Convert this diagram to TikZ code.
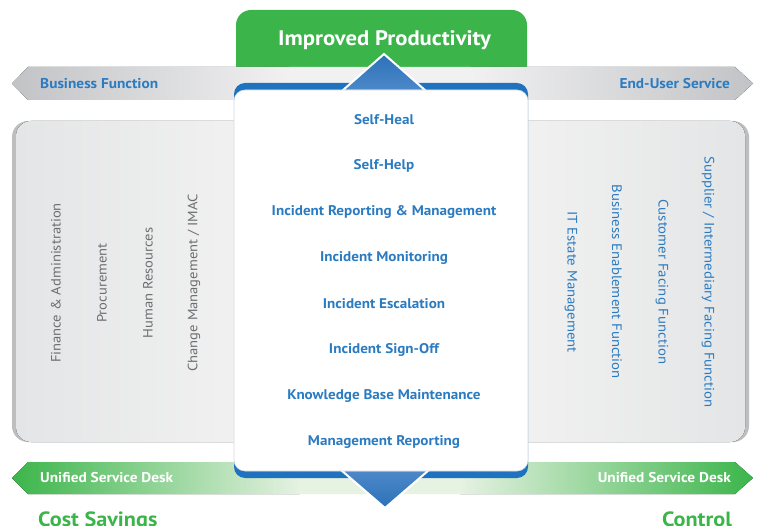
\documentclass[tikz,border=0pt]{standalone}
\usepackage{fontspec}
\setmainfont{PT Sans}[FakeStretch=1.08]
\definecolor{tblue}{HTML}{2B7BC1}
\definecolor{cblue}{HTML}{1F73BE}
\definecolor{tri1}{HTML}{2C71B8}
\definecolor{tri2}{HTML}{4D89C9}
\definecolor{tgray}{HTML}{6D6E71}
\definecolor{pgreen}{HTML}{3BB54A}
\definecolor{palegreen}{HTML}{E6F2E2}
\definecolor{bandgray}{HTML}{C2C3C6}
\definecolor{bandlight}{HTML}{F1F1F2}
\definecolor{panelA}{HTML}{E4E5E6}
\definecolor{panelB}{HTML}{F2F2F2}
\definecolor{shadowgray}{HTML}{BDBEC0}
\definecolor{edgegray}{HTML}{D3DAE3}
\tikzset{
  item/.style={font=\fontsize{14}{16}\selectfont\bfseries, text=tblue, inner sep=0pt},
  bandlabel/.style={font=\fontsize{14.2}{16}\selectfont\bfseries, inner sep=0pt},
  sidegray/.style={font=\fontsize{13.5}{16}\selectfont, text=tgray, inner sep=0pt, rotate=90},
  sideblue/.style={font=\fontsize{13.7}{16}\selectfont, text=tblue, inner sep=0pt, rotate=-90},
  bigtitle/.style={font=\fontsize{21}{24}\selectfont\bfseries, inner sep=0pt},
  tri/.style={draw=white, line width=2pt, line join=miter}
}
\begin{document}
\begin{tikzpicture}[x=1pt,y=-1pt]
\useasboundingbox (0,0) rectangle (760,526);
% side panels
\fill[shadowgray, rounded corners=16pt] (12,121) rectangle (260,442);
\fill[left color=panelA, right color=panelB, rounded corners=15pt] (16,121) rectangle (260,442);
\fill[shadowgray, rounded corners=16pt] (500,121) rectangle (749,442);
\fill[left color=panelB, right color=panelA, rounded corners=15pt] (500,121) rectangle (745,442);
% green title box
\fill[pgreen] (236,75) [rounded corners=15pt] -- (236,10) -- (527,10) [sharp corners] -- (527,75) -- cycle;
\node[bigtitle, text=white] (title) at (384.5,40) {Improved Productivity};
% top gray band
\begin{scope}
\clip (12,83.5) -- (28,67) -- (735,67) -- (753,83.5) -- (735,100) -- (28,100) -- cycle;
\fill[left color=bandgray, right color=bandlight] (11,66) rectangle (290,101);
\fill[bandlight] (289,66) rectangle (471,101);
\fill[left color=bandlight, right color=bandgray] (470,66) rectangle (754,101);
\end{scope}
\node[bandlabel, text=tblue, anchor=west] (bf) at (40,84) {Business Function};
\node[bandlabel, text=tblue, anchor=east] (eu) at (730,84) {End-User Service};
% bottom green band
\begin{scope}
\clip (12,478) -- (28,462) -- (735,462) -- (753,478) -- (735,494) -- (28,494) -- cycle;
\fill[left color=pgreen, right color=palegreen] (11,461) rectangle (300,495);
\fill[palegreen] (299,461) rectangle (461,495);
\fill[left color=palegreen, right color=pgreen] (460,461) rectangle (754,495);
\end{scope}
\node[bandlabel, text=white, anchor=west] (usd1) at (40,478) {Unified Service Desk};
\node[bandlabel, text=white, anchor=east] (usd2) at (731,478) {Unified Service Desk};
% center panel
\fill[cblue, rounded corners=11pt] (234,83) rectangle (528,478);
\fill[tri, top color=tri1, bottom color=tri2] (342,91) -- (384,54) -- (426,91) -- cycle;
\fill[tri, top color=tri2, bottom color=tri1] (341,470) -- (385,508) -- (429,470) -- cycle;
\filldraw[fill=white, draw=edgegray, line width=0.6pt, rounded corners=11pt] (234,90) rectangle (528,471);
% center items
\node[item] (i1) at (384,120) {Self-Heal};
\node[item] (i2) at (384,166) {Self-Help};
\node[item] (i3) at (384,212) {Incident Reporting \& Management};
\node[item] (i4) at (384,258) {Incident Monitoring};
\node[item] (i5) at (384,304) {Incident Escalation};
\node[item] (i6) at (384,350) {Incident Sign-Off};
\node[item] (i7) at (384,396) {Knowledge Base Maintenance};
\node[item] (i8) at (384,442) {Management Reporting};
% left rotated texts
\node[sidegray] (l1) at (56,283) {Finance \& Administration};
\node[sidegray] (l2) at (102,283) {Procurement};
\node[sidegray] (l3) at (148,283) {Human Resources};
\node[sidegray] (l4) at (194,283) {Change Management / IMAC};
% right rotated texts
\node[sideblue] (r1) at (571,282) {IT Estate Management};
\node[sideblue] (r2) at (617,282) {Business Enablement Function};
\node[sideblue] (r3) at (662,282) {Customer Facing Function};
\node[sideblue] (r4) at (708,282) {Supplier / Intermediary Facing Function};
% bottom titles
\node[bigtitle, text=pgreen, font=\fontsize{20.6}{24}\selectfont\bfseries, anchor=base west] (cs) at (38,526) {Cost Savings};
\node[bigtitle, text=pgreen, font=\fontsize{20.6}{24}\selectfont\bfseries, anchor=base east] (ct) at (732,526) {Control};
\end{tikzpicture}
\end{document}
